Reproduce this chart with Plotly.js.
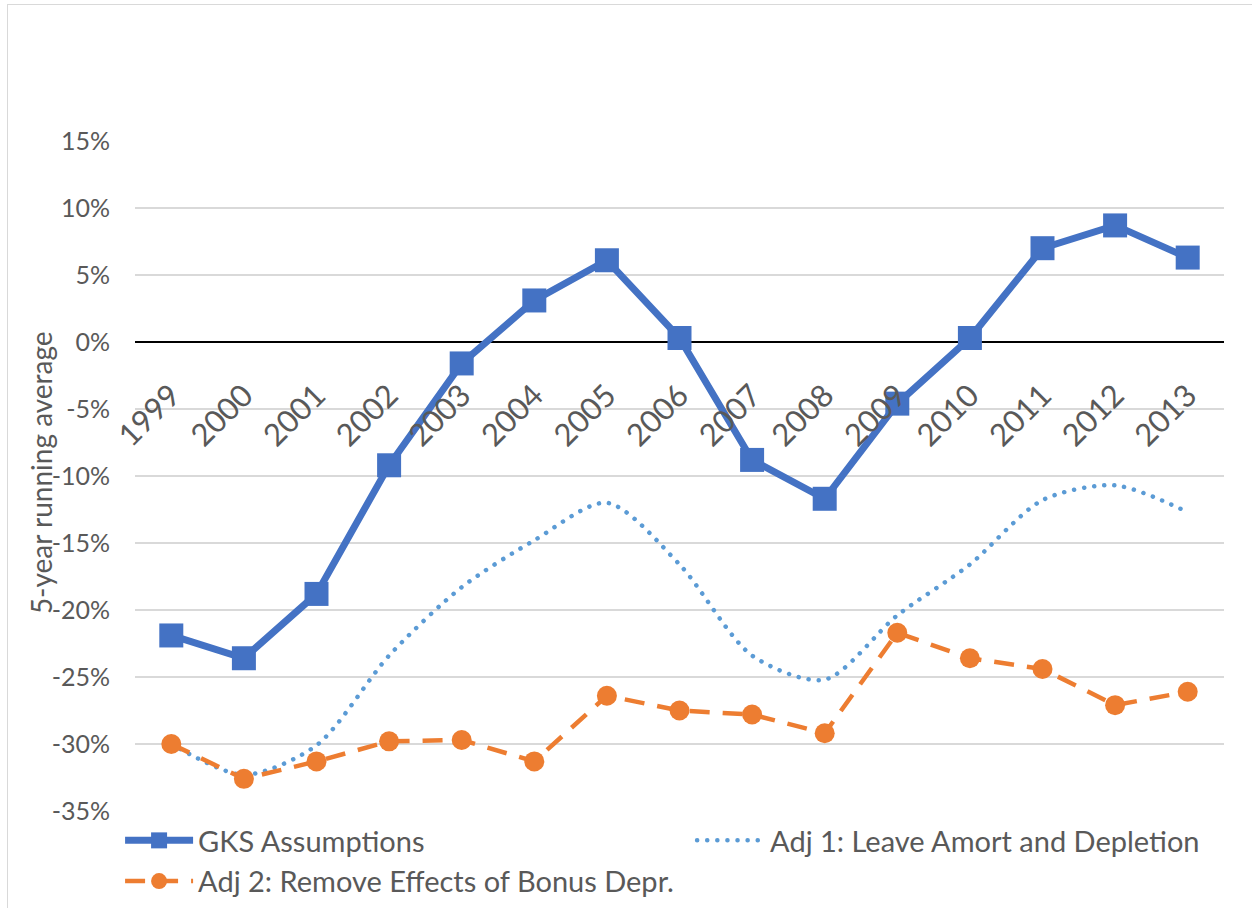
<!DOCTYPE html>
<html>
<head>
<meta charset="utf-8">
<script src="https://cdn.plot.ly/plotly-3.0.1.min.js"></script>
<style>
  html, body { margin: 0; padding: 0; background: #fff; }
  #chart { width: 1252px; height: 908px; }
  #frame { position: absolute; left: 7px; top: 4px; width: 1300px; height: 1000px;
           border: 1.5px solid #d9d9d9; pointer-events: none; }
  .scatterlayer .trace:nth-child(2) path.js-line { stroke-linecap: round; }
  .legend .traces:nth-child(2) path.js-line { stroke-linecap: round; }
</style>
</head>
<body>
<div id="chart"></div>
<div id="frame"></div>
<script>
const years = ['1999','2000','2001','2002','2003','2004','2005','2006','2007','2008','2009','2010','2011','2012','2013'];
const gksAssumptions = [-0.219,-0.236,-0.188,-0.092,-0.016,0.031,0.061,0.003,-0.088,-0.117,-0.046,0.003,0.070,0.087,0.063];
const adj1LeaveAmort = [-0.300,-0.323,-0.301,-0.234,-0.183,-0.148,-0.120,-0.166,-0.234,-0.252,-0.204,-0.166,-0.118,-0.107,-0.127];
const adj2RemoveBonus = [-0.300,-0.326,-0.313,-0.298,-0.297,-0.313,-0.264,-0.275,-0.278,-0.292,-0.217,-0.236,-0.244,-0.271,-0.261];
const seriesNames = ['GKS Assumptions','Adj 1: Leave Amort and Depletion','Adj 2: Remove Effects of Bonus Depr.'];
const yTickVals = [-0.35,-0.30,-0.25,-0.20,-0.15,-0.10,-0.05,0,0.05,0.10,0.15];
const yTickLabels = ['-35%','-30%','-25%','-20%','-15%','-10%','-5%','0%','5%','10%','15%'];
const yAxisTitle = '5-year running average';

const FONT = 'Lato, "Open Sans", sans-serif';
const GREY = '#595959';

const traces = [
  { x: years, y: gksAssumptions, name: seriesNames[0], type: 'scatter', mode: 'lines+markers',
    line: { color: '#4472C4', width: 7 },
    marker: { symbol: 'square', size: 24, color: '#4472C4' } },
  { x: years, y: adj1LeaveAmort, name: seriesNames[1], type: 'scatter', mode: 'lines',
    line: { color: '#5B9BD5', width: 4.5, dash: '0.1px,10px', shape: 'spline', smoothing: 0.8 } },
  { x: years, y: adj2RemoveBonus, name: seriesNames[2], type: 'scatter', mode: 'lines+markers',
    line: { color: '#ED7D31', width: 4.5, dash: '20px,13px' },
    marker: { symbol: 'circle', size: 20, color: '#ED7D31' } }
];

const layout = {
  width: 1252, height: 908,
  margin: { l: 135, r: 28, t: 141, b: 97, autoexpand: false },
  paper_bgcolor: '#ffffff', plot_bgcolor: '#ffffff',
  font: { family: FONT, color: GREY, size: 25 },
  showlegend: true,
  legend: {
    orientation: 'h', x: -0.0137, xanchor: 'left', y: -0.006, yanchor: 'top',
    itemwidth: 68, entrywidth: 489, font: { family: FONT, size: 29, color: GREY },
    bgcolor: 'rgba(0,0,0,0)', traceorder: 'normal'
  },
  xaxis: {
    type: 'category', anchor: 'free', position: 0.7, range: [-0.5, 14.5],
    showgrid: false, showline: false, zeroline: false, ticks: '',
    tickangle: -45, tickfont: { family: FONT, size: 31, color: GREY },
    ticklabelstandoff: 28, fixedrange: true
  },
  yaxis: {
    range: [-0.35, 0.15], tickmode: 'array', tickvals: yTickVals, ticktext: yTickLabels,
    showgrid: true, gridcolor: '#d9d9d9', gridwidth: 1.5,
    zeroline: true, zerolinecolor: '#000000', zerolinewidth: 2.5,
    showline: false, ticks: '', ticklabelstandoff: 24,
    tickfont: { family: FONT, size: 25, color: GREY },
    automargin: false, fixedrange: true
  },
  annotations: [{
    text: yAxisTitle, xref: 'paper', yref: 'paper', x: -0.0868, y: 0.505,
    xanchor: 'center', yanchor: 'middle', textangle: -90, showarrow: false,
    font: { family: FONT, size: 28, color: GREY }
  }]
};

Plotly.newPlot('chart', traces, layout, { displayModeBar: false, staticPlot: true });
</script>
</body>
</html>
